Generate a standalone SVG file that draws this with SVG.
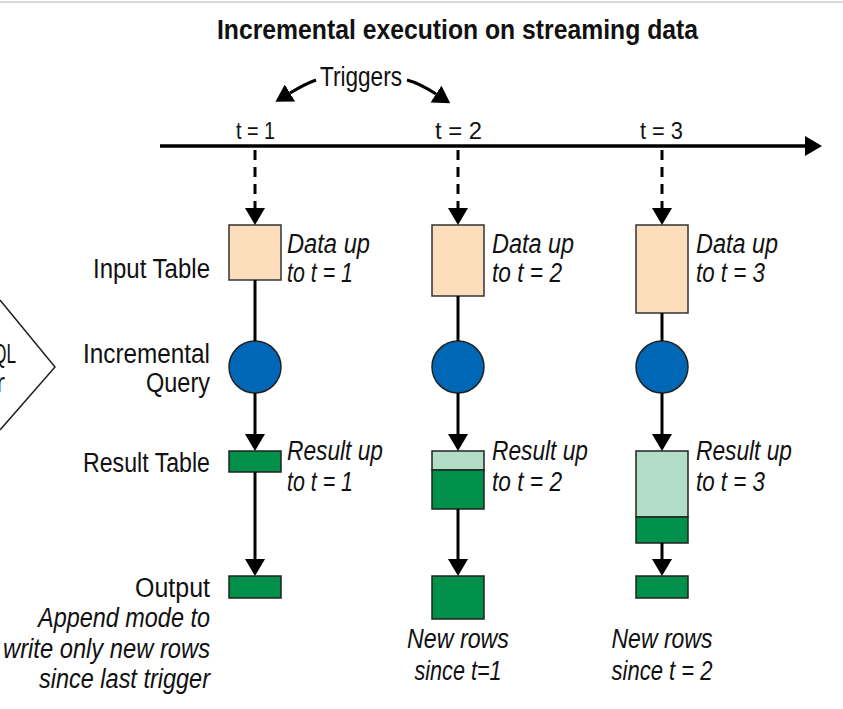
<svg xmlns="http://www.w3.org/2000/svg" width="843" height="709" viewBox="0 0 843 709">
<style>
text{font-family:"Liberation Sans Narrow","Liberation Sans",Arial,sans-serif;fill:#111;}
.t{font-size:27px;}
.i{font-size:27px;font-style:italic;}
.tm{font-size:23px;}
.title{font-size:28px;font-weight:bold;}
.ln{stroke:#000;stroke-width:3;fill:none;}
.dash{stroke:#000;stroke-width:3;fill:none;stroke-dasharray:10 7;}
.inp{fill:#FCDDBC;stroke:#333;stroke-width:1.5;}
.q{fill:#0067B6;stroke:#222;stroke-width:1.5;}
.dk{fill:#00904A;stroke:#222;stroke-width:1.5;}
.lt{fill:#B2DEC7;stroke:#222;stroke-width:1.5;}
</style>
<defs>
<marker id="ah" viewBox="0 0 17 20" refX="0" refY="10" markerWidth="17" markerHeight="20" markerUnits="userSpaceOnUse" orient="auto">
<path d="M0,0 L17,10 L0,20 z" fill="#000"/>
</marker>
</defs>
<rect width="843" height="709" fill="#fff"/>
<line x1="0" y1="2" x2="843" y2="2" stroke="#ccc" stroke-width="1.5"/>

<text class="title" x="217" y="39" textLength="481" lengthAdjust="spacingAndGlyphs">Incremental execution on streaming data</text>

<g id="partial-node">
<path d="M0,300 L55,367 L0,430" fill="none" stroke="#222" stroke-width="1.5"/>
<text class="t" x="-7" y="363" textLength="23" lengthAdjust="spacingAndGlyphs">QL</text>
<text class="t" x="-4" y="392" textLength="9" lengthAdjust="spacingAndGlyphs">r</text>
</g>

<g id="triggers">
<text class="t" x="320" y="86" textLength="82" lengthAdjust="spacingAndGlyphs">Triggers</text>
</g>

<g id="timeline">
<text class="tm" x="236" y="139" textLength="39" lengthAdjust="spacingAndGlyphs">t = 1</text>
<text class="tm" x="435" y="139" textLength="47" lengthAdjust="spacingAndGlyphs">t = 2</text>
<text class="tm" x="640" y="139" textLength="43" lengthAdjust="spacingAndGlyphs">t = 3</text>
</g>

<g id="labels-left">
<text class="t" x="210" y="278" text-anchor="end" textLength="117" lengthAdjust="spacingAndGlyphs">Input Table</text>
<text class="t" x="210" y="363" text-anchor="end" textLength="127" lengthAdjust="spacingAndGlyphs">Incremental</text>
<text class="t" x="210" y="392" text-anchor="end" textLength="64" lengthAdjust="spacingAndGlyphs">Query</text>
<text class="t" x="210" y="472" text-anchor="end" textLength="127" lengthAdjust="spacingAndGlyphs">Result Table</text>
<text class="t" x="210" y="597" text-anchor="end" textLength="75" lengthAdjust="spacingAndGlyphs">Output</text>
<text class="i" x="210" y="627" text-anchor="end" textLength="172" lengthAdjust="spacingAndGlyphs">Append mode to</text>
<text class="i" x="210" y="658" text-anchor="end" textLength="207" lengthAdjust="spacingAndGlyphs">write only new rows</text>
<text class="i" x="210" y="688" text-anchor="end" textLength="171" lengthAdjust="spacingAndGlyphs">since last trigger</text>
</g>

<g id="input-t1">
<rect class="inp" x="229" y="225" width="52" height="55"/>
<text class="i" x="287" y="253" textLength="83" lengthAdjust="spacingAndGlyphs">Data up</text>
<text class="i" x="287" y="282" textLength="66" lengthAdjust="spacingAndGlyphs">to t = 1</text>
</g>
<g id="input-t2">
<rect class="inp" x="432" y="225" width="52" height="71"/>
<text class="i" x="492" y="253" textLength="82" lengthAdjust="spacingAndGlyphs">Data up</text>
<text class="i" x="492" y="282" textLength="70" lengthAdjust="spacingAndGlyphs">to t = 2</text>
</g>
<g id="input-t3">
<rect class="inp" x="636" y="225" width="52" height="88"/>
<text class="i" x="696" y="253" textLength="82" lengthAdjust="spacingAndGlyphs">Data up</text>
<text class="i" x="696" y="282" textLength="69" lengthAdjust="spacingAndGlyphs">to t = 3</text>
</g>

<g id="query-t1"><circle class="q" cx="255" cy="367" r="26"/></g>
<g id="query-t2"><circle class="q" cx="458" cy="367" r="26"/></g>
<g id="query-t3"><circle class="q" cx="662" cy="367" r="26"/></g>

<g id="result-t1">
<rect class="dk" x="229" y="451" width="52" height="21"/>
<text class="i" x="287" y="460" textLength="96" lengthAdjust="spacingAndGlyphs">Result up</text>
<text class="i" x="287" y="491" textLength="66" lengthAdjust="spacingAndGlyphs">to t = 1</text>
</g>
<g id="result-t2">
<rect class="lt" x="432" y="451" width="52" height="19"/>
<rect class="dk" x="432" y="470" width="52" height="39"/>
<text class="i" x="492" y="460" textLength="96" lengthAdjust="spacingAndGlyphs">Result up</text>
<text class="i" x="492" y="491" textLength="70" lengthAdjust="spacingAndGlyphs">to t = 2</text>
</g>
<g id="result-t3">
<rect class="lt" x="636" y="451" width="52" height="66"/>
<rect class="dk" x="636" y="517" width="52" height="26"/>
<text class="i" x="696" y="460" textLength="96" lengthAdjust="spacingAndGlyphs">Result up</text>
<text class="i" x="696" y="491" textLength="69" lengthAdjust="spacingAndGlyphs">to t = 3</text>
</g>

<g id="output-t1"><rect class="dk" x="229" y="576" width="52" height="22"/></g>
<g id="output-t2">
<rect class="dk" x="432" y="576" width="52" height="43"/>
<text class="i" x="458" y="648" text-anchor="middle" textLength="102" lengthAdjust="spacingAndGlyphs">New rows</text>
<text class="i" x="458" y="680" text-anchor="middle" textLength="87" lengthAdjust="spacingAndGlyphs">since t=1</text>
</g>
<g id="output-t3">
<rect class="dk" x="636" y="576" width="52" height="22"/>
<text class="i" x="662" y="648" text-anchor="middle" textLength="101" lengthAdjust="spacingAndGlyphs">New rows</text>
<text class="i" x="662" y="680" text-anchor="middle" textLength="101" lengthAdjust="spacingAndGlyphs">since t = 2</text>
</g>

<g id="connectors">
<line x1="160" y1="146" x2="805" y2="146" stroke="#000" stroke-width="3.5" marker-end="url(#ah)"/>
<path class="ln" d="M316,80 Q305,84 290,93" marker-end="url(#ah)"/>
<path class="ln" d="M407,80 Q419,83 436,94" marker-end="url(#ah)"/>

<line class="dash" x1="255" y1="150" x2="255" y2="208" marker-end="url(#ah)"/>
<line class="dash" x1="458" y1="150" x2="458" y2="208" marker-end="url(#ah)"/>
<line class="dash" x1="662" y1="150" x2="662" y2="208" marker-end="url(#ah)"/>

<line class="ln" x1="255" y1="280" x2="255" y2="341"/>
<line class="ln" x1="458" y1="296" x2="458" y2="341"/>
<line class="ln" x1="662" y1="313" x2="662" y2="341"/>

<line class="ln" x1="255" y1="393" x2="255" y2="434" marker-end="url(#ah)"/>
<line class="ln" x1="458" y1="393" x2="458" y2="434" marker-end="url(#ah)"/>
<line class="ln" x1="662" y1="393" x2="662" y2="434" marker-end="url(#ah)"/>

<line class="ln" x1="255" y1="472" x2="255" y2="559" marker-end="url(#ah)"/>
<line class="ln" x1="458" y1="509" x2="458" y2="559" marker-end="url(#ah)"/>
<line class="ln" x1="662" y1="543" x2="662" y2="559" marker-end="url(#ah)"/>
</g>
</svg>
